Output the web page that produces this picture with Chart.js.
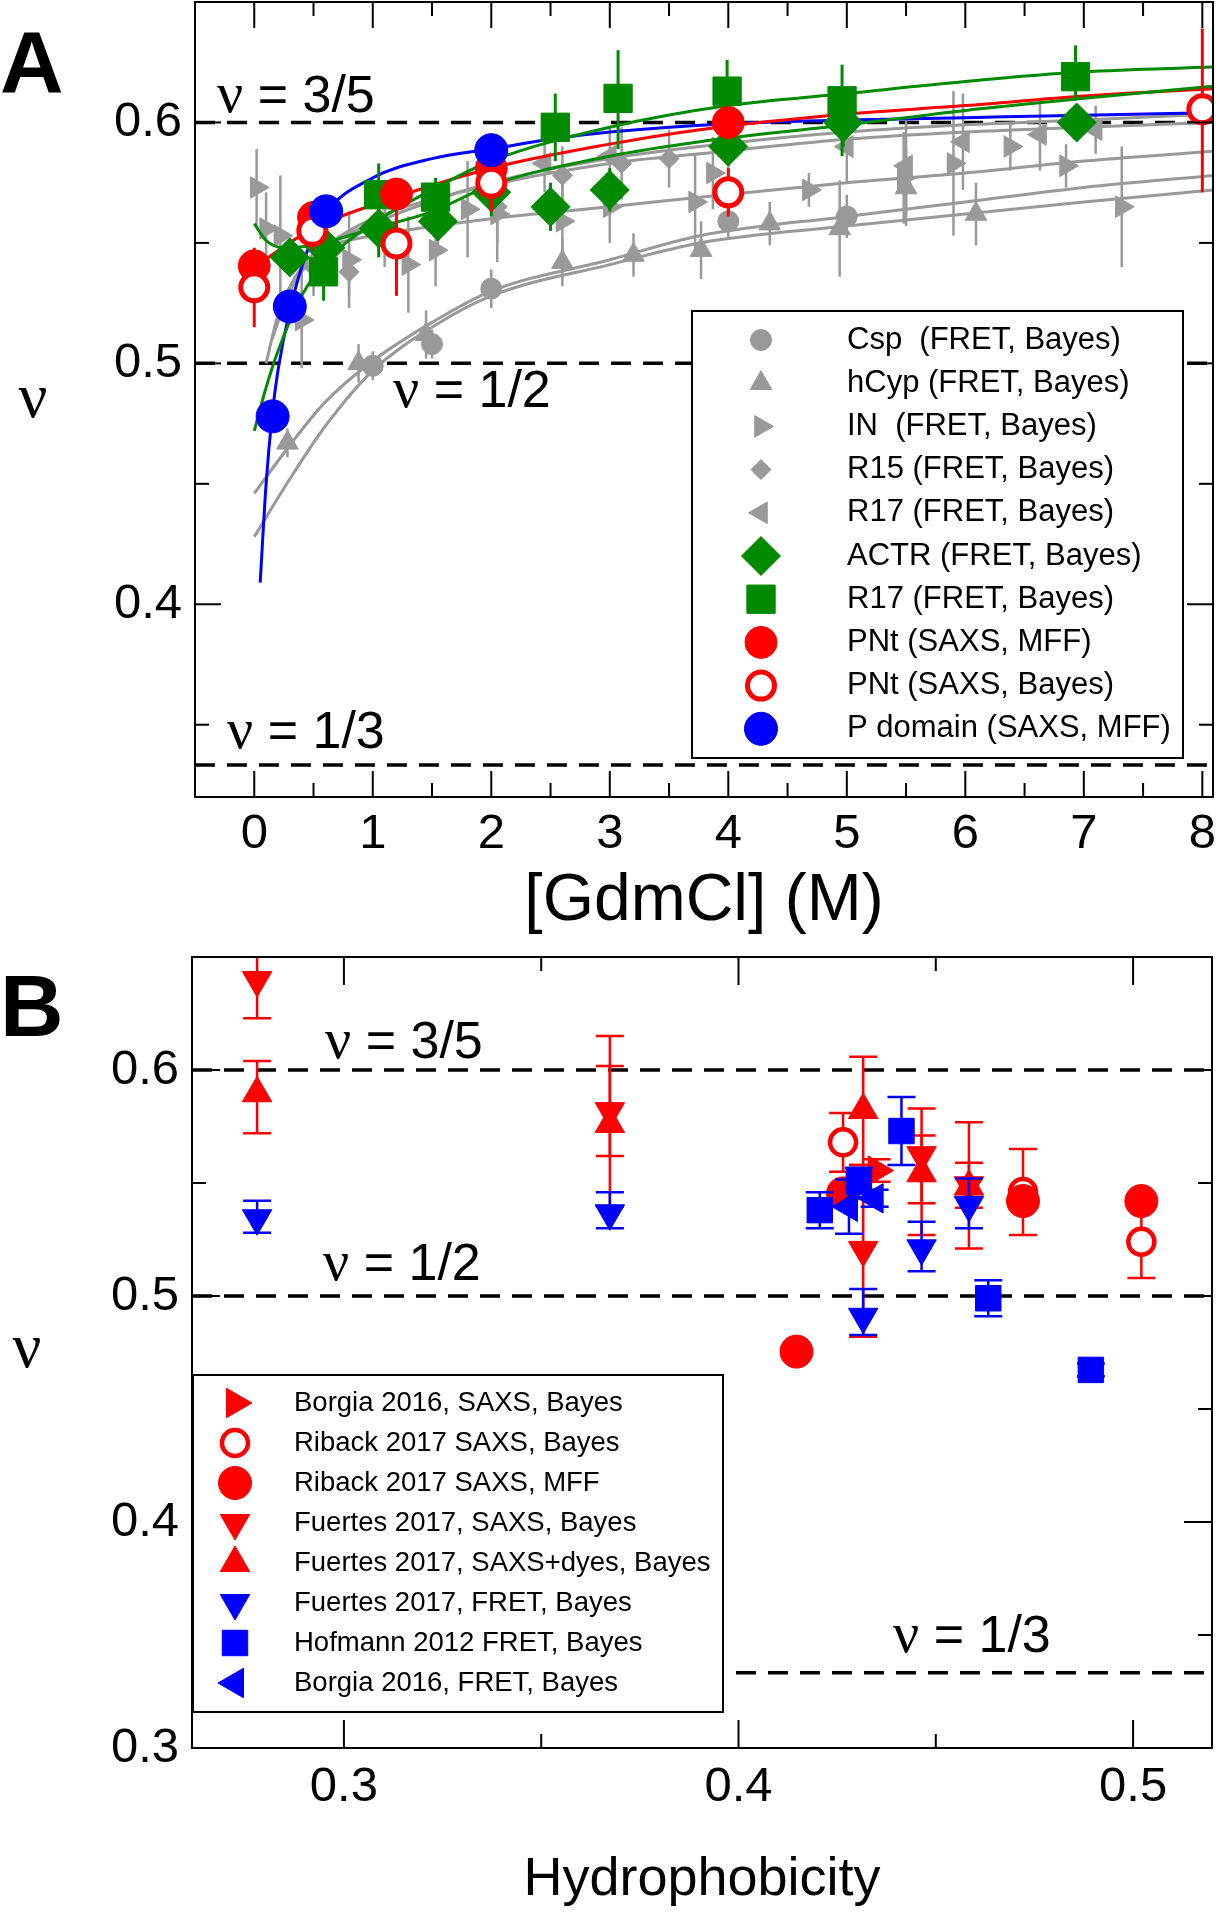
<!DOCTYPE html>
<html lang="en">
  <head>
    <meta charset="UTF-8">
    <meta name="viewport" content="width=device-width, initial-scale=1.0">
    <title>nu vs GdmCl / hydrophobicity</title>
    <script src="https://cdn.jsdelivr.net/npm/chart.js"></script>
    <style>
      body { margin: 0; background: #fff; }
      canvas { position: absolute; left: 0; }
    </style>
  </head>

  <body>
    <canvas id="graficoA" width="1220" height="945" style="top: 0px;"></canvas>
    <canvas id="graficoB" width="1220" height="967" style="top: 945px;"></canvas>

    <script>
      // ---------- painel A : nu vs [GdmCl] ----------
      const gdmMaior = [0, 1, 2, 3, 4, 5, 6, 7, 8]
      const gdmMenor = [0.5, 1.5, 2.5, 3.5, 4.5, 5.5, 6.5, 7.5]
      const nuMaiorA = [0.4, 0.5, 0.6]
      const nuMenorA = [0.35, 0.45, 0.55]
      const nuRef = [3 / 5, 1 / 2, 1 / 3]

      const cspX = [1.0, 1.5, 2.0, 4.0, 5.0]
      const cspY = [0.499, 0.508, 0.531, 0.559, 0.561]
      const cspErr = [0.006, 0.006, 0.008, 0.007, 0.009]

      const hcypX = [0.28, 0.88, 1.45, 2.6, 3.2, 3.77, 4.35, 4.94, 5.5, 6.09]
      const hcypY = [0.467, 0.500, 0.512, 0.542, 0.545, 0.547, 0.558, 0.556, 0.573, 0.562]
      const hcypErr = [0.006, 0.008, 0.010, 0.010, 0.009, 0.012, 0.009, 0.020, 0.016, 0.013]

      const inX = [0.02, 0.1, 0.22, 0.4, 0.8, 1.3, 1.53, 1.8, 2.05, 2.6, 3.0, 3.72, 3.87, 4.68, 5.48, 5.9, 6.38, 6.85, 7.32]
      const inY = [0.573, 0.556, 0.553, 0.518, 0.543, 0.541, 0.547, 0.564, 0.562, 0.559, 0.565, 0.567, 0.579, 0.572, 0.577, 0.583, 0.590, 0.582, 0.565]
      const inErr = [0.016, 0.015, 0.025, 0.02, 0.02, 0.02, 0.015, 0.02, 0.02, 0.02, 0.015, 0.02, 0.015, 0.007, 0.019, 0.03, 0.01, 0.009, 0.025]

      const r15X = [0.5, 0.8, 1.2, 1.55, 2.05, 2.6, 3.1, 3.5, 4.0]
      const r15Y = [0.540, 0.538, 0.548, 0.556, 0.565, 0.578, 0.583, 0.585, 0.589]
      const r15Err = [0.012, 0.01, 0.012, 0.01, 0.015, 0.012, 0.015, 0.012, 0.01]

      const r17cX = [1.1, 2.45, 3.0, 5.0, 5.5, 5.98, 6.63, 7.1]
      const r17cY = [0.552, 0.583, 0.586, 0.590, 0.582, 0.592, 0.595, 0.597]
      const r17cErr = [0.012, 0.012, 0.012, 0.015, 0.02, 0.02, 0.015, 0.01]

      const actrX = [0.3, 0.6, 1.05, 1.55, 2.0, 2.5, 3.0, 4.0, 4.97, 6.94]
      const actrY = [0.544, 0.548, 0.556, 0.559, 0.571, 0.565, 0.572, 0.590, 0.600, 0.600]
      const actrErr = [0.006, 0.01, 0.012, 0.008, 0.01, 0.01, 0.009, 0.008, 0.01, 0.006]

      const r17vX = [0.585, 1.05, 1.53, 2.54, 3.07, 3.99, 4.96, 6.93]
      const r17vY = [0.538, 0.570, 0.569, 0.598, 0.610, 0.613, 0.609, 0.619]
      const r17vLo = [0.526, 0.560, 0.561, 0.584, 0.589, 0.600, 0.586, 0.609]
      const r17vHi = [0.550, 0.583, 0.577, 0.612, 0.630, 0.626, 0.624, 0.632]

      const pntMffX = [0, 0.5, 1.2, 2.0, 4.0]
      const pntMffY = [0.5405, 0.5606, 0.5703, 0.581, 0.600]

      const pntBayesX = [0, 0.49, 1.2, 2.0, 4.0, 8.0]
      const pntBayesY = [0.5316, 0.555, 0.5498, 0.575, 0.571, 0.6055]
      const pntBayesLo = [0.515, 0.547, 0.528, 0.563, 0.561, 0.571]
      const pntBayesHi = [0.548, 0.563, 0.565, 0.585, 0.581, 0.639]

      const pdomX = [0.155, 0.30, 0.607, 2.0]
      const pdomY = [0.478, 0.5236, 0.5631, 0.5885]

      // curvas de ajuste
      const ajCspX = [0, 0.3, 0.6, 1, 1.5, 2, 3, 3.76, 5, 6, 7, 8.09]
      const ajCspY = [0.428, 0.452, 0.474, 0.497, 0.515, 0.528, 0.541, 0.550, 0.557, 0.562, 0.567, 0.572]
      const ajHcypX = [0, 0.3, 0.6, 1, 1.5, 2, 3, 3.76, 5, 6, 7, 8.09]
      const ajHcypY = [0.446, 0.466, 0.484, 0.501, 0.517, 0.530, 0.543, 0.553, 0.561, 0.567, 0.573, 0.578]
      const ajInX = [0.5, 1, 2, 3, 3.76, 5, 6, 7, 8.09]
      const ajInY = [0.548, 0.553, 0.560, 0.565, 0.569, 0.575, 0.579, 0.584, 0.588]
      const ajR15X = [0.1, 0.2, 0.4, 0.7, 1, 2, 3, 3.76, 5, 6, 7, 8.09]
      const ajR15Y = [0.50, 0.52, 0.54, 0.552, 0.56, 0.574, 0.583, 0.587, 0.593, 0.596, 0.598, 0.600]
      const ajR17cX = [0.15, 0.3, 0.6, 1, 2, 3, 3.76, 5, 6, 7, 8.09]
      const ajR17cY = [0.51, 0.53, 0.548, 0.558, 0.575, 0.585, 0.590, 0.596, 0.599, 0.601, 0.6035]
      const ajActrX = [0, 0.1, 0.25, 0.5, 1, 1.5, 2, 3, 3.76, 5, 6, 7, 8.09]
      const ajActrY = [0.558, 0.551, 0.548, 0.549, 0.556, 0.563, 0.574, 0.586, 0.592, 0.599, 0.605, 0.610, 0.615]
      const ajR17vX = [0, 0.1, 0.2, 0.4, 0.6, 1, 1.5, 2, 3, 4, 5, 6, 7, 8.09]
      const ajR17vY = [0.472, 0.49, 0.505, 0.528, 0.542, 0.558, 0.572, 0.584, 0.598, 0.607, 0.612, 0.617, 0.621, 0.623]
      const ajPntX = [0, 0.5, 1.2, 2, 3, 3.76, 5, 6, 7, 8.09]
      const ajPntY = [0.540, 0.556, 0.569, 0.581, 0.591, 0.597, 0.6035, 0.607, 0.611, 0.614]
      const ajPdomX = [0.05, 0.1, 0.15, 0.2, 0.3, 0.45, 0.6, 1, 1.5, 2, 2.5, 3, 4, 5, 6, 7, 8.09]
      const ajPdomY = [0.409, 0.45, 0.478, 0.497, 0.522, 0.547, 0.562, 0.577, 0.585, 0.589, 0.593, 0.596, 0.5995, 0.601, 0.602, 0.603, 0.604]

      // ---------- painel B : nu vs hidrofobicidade ----------
      const hidMaior = [0.3, 0.4, 0.5]
      const hidMenor = [0.35, 0.45]
      const nuMaiorB = [0.3, 0.4, 0.5, 0.6]
      const nuMenorB = [0.35, 0.45, 0.55]

      const borgiaSaxsX = [0.435]
      const borgiaSaxsY = [0.5555]
      const borgiaSaxsLo = [0.5505]
      const borgiaSaxsHi = [0.5605]

      const ribackBayesX = [0.4265, 0.4721, 0.5021]
      const ribackBayesY = [0.568, 0.546, 0.524]
      const ribackBayesLo = [0.555, 0.527, 0.508]
      const ribackBayesHi = [0.581, 0.565, 0.540]

      const ribackMffX = [0.4147, 0.4265, 0.4721, 0.5021]
      const ribackMffY = [0.4754, 0.5454, 0.542, 0.542]

      const fuertesSaxsX = [0.278, 0.3674, 0.4316, 0.4464, 0.4584]
      const fuertesSaxsY = [0.6398, 0.5818, 0.5204, 0.5623, 0.549]
      const fuertesSaxsLo = [0.6229, 0.5395, 0.482, 0.527, 0.539]
      const fuertesSaxsHi = [0.657, 0.615, 0.558, 0.583, 0.559]

      const fuertesDyesX = [0.278, 0.3674, 0.4316, 0.4464, 0.4584]
      const fuertesDyesY = [0.5897, 0.5761, 0.5823, 0.5543, 0.5484]
      const fuertesDyesLo = [0.572, 0.562, 0.558, 0.541, 0.521]
      const fuertesDyesHi = [0.604, 0.6018, 0.6059, 0.571, 0.5769]

      const fuertesFretX = [0.278, 0.3674, 0.4316, 0.4464, 0.4584]
      const fuertesFretY = [0.5344, 0.5366, 0.4908, 0.5211, 0.5403]
      const fuertesFretLo = [0.528, 0.530, 0.4827, 0.511, 0.530]
      const fuertesFretHi = [0.5422, 0.5459, 0.5031, 0.5329, 0.552]

      const hofmannX = [0.4206, 0.4305, 0.4413, 0.4633, 0.4893]
      const hofmannY = [0.538, 0.5506, 0.573, 0.499, 0.4673]
      const hofmannLo = [0.530, 0.5434, 0.558, 0.491, 0.4645]
      const hofmannHi = [0.5459, 0.5568, 0.588, 0.507, 0.4701]

      const borgiaFretX = [0.428, 0.4345]
      const borgiaFretY = [0.5395, 0.5432]
      const borgiaFretLo = [0.5275, 0.5395]
      const borgiaFretHi = [0.5515, 0.547]

      // ---------- estilos e montagem ----------
      const CINZA = '#999999', VERDE = '#008a00', VERMELHO = '#ff0000', AZUL = '#0000ff'
      const FONTE = "'Liberation Sans', Arial, Helvetica, sans-serif"
      const SERIFA = "'Liberation Serif', 'Times New Roman', serif"
      Chart.defaults.font.family = FONTE
      Chart.defaults.color = '#000'

      const pontos = (xs, ys, lo, hi) => xs.map((x, i) => ({ x, y: ys[i], lo: lo ? lo[i] : null, hi: hi ? hi[i] : null }))
      const comErro = (xs, ys, e) => pontos(xs, ys, ys.map((y, i) => y - e[i]), ys.map((y, i) => y + e[i]))

      const marcador = (label, data, cor, estilo, raio, rot, ordem, extra) => Object.assign({
        label, data, showLine: false, legenda: true,
        pointStyle: estilo, pointRadius: raio, pointRotation: rot,
        pointBackgroundColor: cor, pointBorderColor: cor, pointBorderWidth: 1,
        backgroundColor: cor, borderColor: cor,
        erroCor: cor, erroLargura: 2.5, capa: 0, order: ordem
      }, extra || {})

      const ajuste = (xs, ys, cor, largura, ordem) => ({
        data: pontos(xs, ys), showLine: true, pointRadius: 0, borderColor: cor, borderWidth: largura,
        cubicInterpolationMode: 'monotone', tension: 0.4, order: ordem
      })

      const tracejada = (nu, xmin, xmax) => ({
        data: [{ x: xmin, y: nu }, { x: xmax, y: nu }], showLine: true, pointRadius: 0,
        borderColor: '#000', borderWidth: 3.5, borderDash: [20, 12], order: 100
      })

      // barras de erro desenhadas antes de cada conjunto
      const barrasErro = {
        id: 'barrasErro',
        beforeDatasetDraw(chart, args) {
          const ds = chart.data.datasets[args.index]
          if (!ds.erroCor) return
          const { ctx, chartArea: a, scales: { x, y } } = chart
          ctx.save()
          ctx.beginPath()
          ctx.rect(a.left, a.top, a.right - a.left, a.bottom - a.top)
          ctx.clip()
          ctx.strokeStyle = ds.erroCor
          ctx.lineWidth = ds.erroLargura
          ds.data.forEach(p => {
            if (p.lo == null) return
            const px = x.getPixelForValue(p.x)
            const y1 = y.getPixelForValue(p.lo), y2 = y.getPixelForValue(p.hi)
            ctx.beginPath()
            ctx.moveTo(px, y1); ctx.lineTo(px, y2)
            if (ds.capa) {
              ctx.moveTo(px - ds.capa, y1); ctx.lineTo(px + ds.capa, y1)
              ctx.moveTo(px - ds.capa, y2); ctx.lineTo(px + ds.capa, y2)
            }
            ctx.stroke()
          })
          ctx.restore()
        }
      }

      // moldura e marcas para dentro
      const moldura = {
        id: 'moldura',
        afterDatasetsDraw(chart, args, o) {
          const { ctx, chartArea: a, scales: { x, y } } = chart
          ctx.save()
          ctx.strokeStyle = '#000'
          ctx.lineWidth = 2
          const seg = (x1, y1, x2, y2) => { ctx.beginPath(); ctx.moveTo(x1, y1); ctx.lineTo(x2, y2); ctx.stroke() }
          const marcasX = (vals, len) => vals.forEach(v => {
            const px = x.getPixelForValue(v)
            seg(px, a.bottom, px, a.bottom - len); seg(px, a.top, px, a.top + len)
          })
          const marcasY = (vals, len) => vals.forEach(v => {
            const py = y.getPixelForValue(v)
            seg(a.left, py, a.left + len, py); seg(a.right, py, a.right - len, py)
          })
          marcasX(o.xMaior, o.maior); marcasX(o.xMenor, o.menor)
          marcasY(o.yMaior, o.maior); marcasY(o.yMenor, o.menor)
          ctx.strokeRect(a.left, a.top, a.right - a.left, a.bottom - a.top)
          ctx.restore()
        }
      }

      // textos soltos; "partes" permite misturar a letra grega com serifa e o resto sem serifa
      const textos = {
        id: 'textos',
        afterDraw(chart, args, o) {
          const ctx = chart.ctx
          ctx.save()
          ctx.fillStyle = '#000'
          o.lista.forEach(t => {
            ctx.textBaseline = t.base || 'alphabetic'
            if (t.partes) {
              ctx.textAlign = 'left'
              let xx = t.x
              t.partes.forEach(p => {
                ctx.font = p.fonte
                ctx.fillText(p.texto, xx, t.y)
                xx += ctx.measureText(p.texto).width
              })
              return
            }
            ctx.font = t.fonte
            ctx.textAlign = t.alinha || 'left'
            ctx.fillText(t.texto, t.x, t.y)
          })
          ctx.restore()
        }
      }

      const legendaCaixa = {
        id: 'legendaCaixa',
        afterDraw(chart, args, o) {
          const ctx = chart.ctx
          const [x0, y0, x1, y1] = o.caixa
          ctx.save()
          ctx.fillStyle = '#fff'
          ctx.fillRect(x0, y0, x1 - x0, y1 - y0)
          ctx.strokeStyle = '#000'
          ctx.lineWidth = 2
          ctx.strokeRect(x0, y0, x1 - x0, y1 - y0)
          ctx.font = o.fonte
          ctx.textBaseline = 'middle'
          ctx.textAlign = 'left'
          chart.data.datasets.filter(d => d.legenda).forEach((d, i) => {
            const yy = o.linha0 + i * o.passo
            ctx.fillStyle = d.pointBackgroundColor
            ctx.strokeStyle = d.pointBorderColor
            ctx.lineWidth = d.pointBorderWidth
            Chart.helpers.drawPoint(ctx, { pointStyle: d.pointStyle, radius: d.pointRadius, rotation: d.pointRotation, borderWidth: d.pointBorderWidth }, o.simboloX, yy)
            ctx.fillStyle = '#000'
            ctx.fillText(d.label, o.textoX, yy)
          })
          ctx.restore()
        }
      }

      // eixos com tamanho fixo e sem folga extra dos rotulos
      const eixoX = (min, max, marcas, altura, pad) => ({
        type: 'linear', min, max,
        afterBuildTicks: s => { s.ticks = marcas.map(v => ({ value: v })) },
        afterFit: s => { s.height = altura; s.paddingLeft = 0; s.paddingRight = 0 },
        grid: { display: false, drawTicks: false },
        border: { display: false },
        ticks: { font: { size: 49 }, color: '#000', padding: pad, maxRotation: 0, minRotation: 0, autoSkip: false, callback: v => String(v) }
      })
      const eixoY = (min, max, marcas, largura) => ({
        type: 'linear', min, max,
        afterBuildTicks: s => { s.ticks = marcas.map(v => ({ value: v })) },
        afterFit: s => { s.width = largura; s.paddingTop = 0; s.paddingBottom = 0 },
        grid: { display: false, drawTicks: false },
        border: { display: false },
        ticks: { font: { size: 49 }, color: '#000', padding: 13, autoSkip: false, callback: v => String(v) }
      })

      const nuIgual = (resto, x, y) => ({ x, y, partes: [
        { texto: '\u03bd', fonte: '58px ' + SERIFA },
        { texto: ' = ' + resto, fonte: '52px ' + FONTE }
      ] })

      // ---------- grafico A ----------
      const xminA = -0.5, xmaxA = 8.09
      const dadosA = [
        ...nuRef.map(v => tracejada(v, xminA, xmaxA)),
        marcador('Csp  (FRET, Bayes)', comErro(cspX, cspY, cspErr), CINZA, 'circle', 10.5, 0, 95),
        marcador('hCyp (FRET, Bayes)', comErro(hcypX, hcypY, hcypErr), CINZA, 'triangle', 12.5, 0, 94),
        marcador('IN  (FRET, Bayes)', comErro(inX, inY, inErr), CINZA, 'triangle', 12.5, 90, 93),
        marcador('R15 (FRET, Bayes)', comErro(r15X, r15Y, r15Err), CINZA, 'rectRot', 10, 0, 92),
        marcador('R17 (FRET, Bayes)', comErro(r17cX, r17cY, r17cErr), CINZA, 'triangle', 12.5, 270, 91),
        marcador('ACTR (FRET, Bayes)', comErro(actrX, actrY, actrErr), VERDE, 'rectRot', 19.5, 0, 50, { erroLargura: 3 }),
        marcador('R17 (FRET, Bayes)', pontos(r17vX, r17vY, r17vLo, r17vHi), VERDE, 'rect', 20, 0, 45, { erroLargura: 3 }),
        marcador('PNt (SAXS, MFF)', pontos(pntMffX, pntMffY), VERMELHO, 'circle', 16, 0, 40),
        marcador('PNt (SAXS, Bayes)', pontos(pntBayesX, pntBayesY, pntBayesLo, pntBayesHi), VERMELHO, 'circle', 13.5, 0, 35,
          { pointBackgroundColor: '#fff', pointBorderWidth: 5, erroLargura: 3 }),
        marcador('P domain (SAXS, MFF)', pontos(pdomX, pdomY), AZUL, 'circle', 16.5, 0, 30),
        ajuste(ajCspX, ajCspY, CINZA, 3, 80),
        ajuste(ajHcypX, ajHcypY, CINZA, 3, 80),
        ajuste(ajInX, ajInY, CINZA, 3, 80),
        ajuste(ajR15X, ajR15Y, CINZA, 3, 80),
        ajuste(ajR17cX, ajR17cY, CINZA, 3, 80),
        ajuste(ajActrX, ajActrY, VERDE, 3, 60),
        ajuste(ajR17vX, ajR17vY, VERDE, 3, 60),
        ajuste(ajPntX, ajPntY, VERMELHO, 3, 60),
        ajuste(ajPdomX, ajPdomY, AZUL, 3, 60)
      ]

      const graficoA = new Chart(document.getElementById('graficoA'), {
        type: 'scatter',
        data: { datasets: dadosA },
        options: {
          responsive: false, animation: false, events: [],
          layout: { autoPadding: false, padding: { top: 2, right: 7, left: 0, bottom: 0 } },
          scales: {
            x: eixoX(xminA, xmaxA, gdmMaior, 148, 8),
            y: eixoY(0.32, 0.65, nuMaiorA, 195)
          },
          plugins: {
            legend: { display: false }, tooltip: { enabled: false },
            moldura: { xMaior: gdmMaior, xMenor: gdmMenor, yMaior: nuMaiorA, yMenor: nuMenorA, maior: 26, menor: 14 },
            legendaCaixa: { caixa: [692, 311, 1183, 758], simboloX: 761, textoX: 847, linha0: 340, passo: 43.2, fonte: '31px ' + FONTE },
            textos: { lista: [
              { texto: 'A', x: 0, y: 92, fonte: 'bold 88px ' + FONTE },
              { texto: '\u03bd', x: 33, y: 400, fonte: '64px ' + SERIFA, alinha: 'center', base: 'middle' },
              { texto: '[GdmCl] (M)', x: 704, y: 902, fonte: '66px ' + FONTE, alinha: 'center', base: 'middle' },
              nuIgual('3/5', 217, 112),
              nuIgual('1/2', 393, 407),
              nuIgual('1/3', 227, 748)
            ] }
          }
        },
        plugins: [barrasErro, moldura, textos, legendaCaixa]
      })

      // ---------- grafico B ----------
      const xminB = 0.2615, xmaxB = 0.52
      const capaB = { capa: 14, erroLargura: 2.5 }
      const dadosB = [
        ...nuRef.map(v => tracejada(v, xminB, xmaxB)),
        marcador('Borgia 2016, SAXS, Bayes', pontos(borgiaSaxsX, borgiaSaxsY, borgiaSaxsLo, borgiaSaxsHi), VERMELHO, 'triangle', 17, 90, 58, capaB),
        marcador('Riback 2017 SAXS, Bayes', pontos(ribackBayesX, ribackBayesY, ribackBayesLo, ribackBayesHi), VERMELHO, 'circle', 13, 0, 57,
          Object.assign({ pointBackgroundColor: '#fff', pointBorderWidth: 4.5 }, capaB)),
        marcador('Riback 2017 SAXS, MFF', pontos(ribackMffX, ribackMffY), VERMELHO, 'circle', 16.5, 0, 56, capaB),
        marcador('Fuertes 2017, SAXS, Bayes', pontos(fuertesSaxsX, fuertesSaxsY, fuertesSaxsLo, fuertesSaxsHi), VERMELHO, 'triangle', 17, 180, 55, capaB),
        marcador('Fuertes 2017, SAXS+dyes, Bayes', pontos(fuertesDyesX, fuertesDyesY, fuertesDyesLo, fuertesDyesHi), VERMELHO, 'triangle', 17, 0, 54, capaB),
        marcador('Fuertes 2017, FRET, Bayes', pontos(fuertesFretX, fuertesFretY, fuertesFretLo, fuertesFretHi), AZUL, 'triangle', 17, 180, 50, capaB),
        marcador('Hofmann 2012 FRET, Bayes', pontos(hofmannX, hofmannY, hofmannLo, hofmannHi), AZUL, 'rect', 18, 0, 49, capaB),
        marcador('Borgia 2016, FRET, Bayes', pontos(borgiaFretX, borgiaFretY, borgiaFretLo, borgiaFretHi), AZUL, 'triangle', 17, 270, 48, capaB)
      ]

      const graficoB = new Chart(document.getElementById('graficoB'), {
        type: 'scatter',
        data: { datasets: dadosB },
        options: {
          responsive: false, animation: false, events: [],
          layout: { autoPadding: false, padding: { top: 12, right: 8, left: 0, bottom: 0 } },
          scales: {
            x: eixoX(xminB, xmaxB, hidMaior, 164, 10),
            y: eixoY(0.3, 0.65, nuMaiorB, 192)
          },
          plugins: {
            legend: { display: false }, tooltip: { enabled: false },
            moldura: { xMaior: hidMaior, xMenor: hidMenor, yMaior: nuMaiorB, yMenor: nuMenorB, maior: 28, menor: 14 },
            legendaCaixa: { caixa: [193, 430, 723, 767], simboloX: 235, textoX: 294, linha0: 458, passo: 40, fonte: '27.5px ' + FONTE },
            textos: { lista: [
              { texto: 'B', x: 0, y: 91, fonte: 'bold 88px ' + FONTE },
              { texto: '\u03bd', x: 27, y: 405, fonte: '64px ' + SERIFA, alinha: 'center', base: 'middle' },
              { texto: 'Hydrophobicity', x: 702, y: 935, fonte: '54px ' + FONTE, alinha: 'center', base: 'middle' },
              nuIgual('3/5', 325, 113),
              nuIgual('1/2', 323, 335),
              nuIgual('1/3', 893, 707)
            ] }
          }
        },
        plugins: [barrasErro, moldura, textos, legendaCaixa]
      })
    </script>
  </body>
</html>
